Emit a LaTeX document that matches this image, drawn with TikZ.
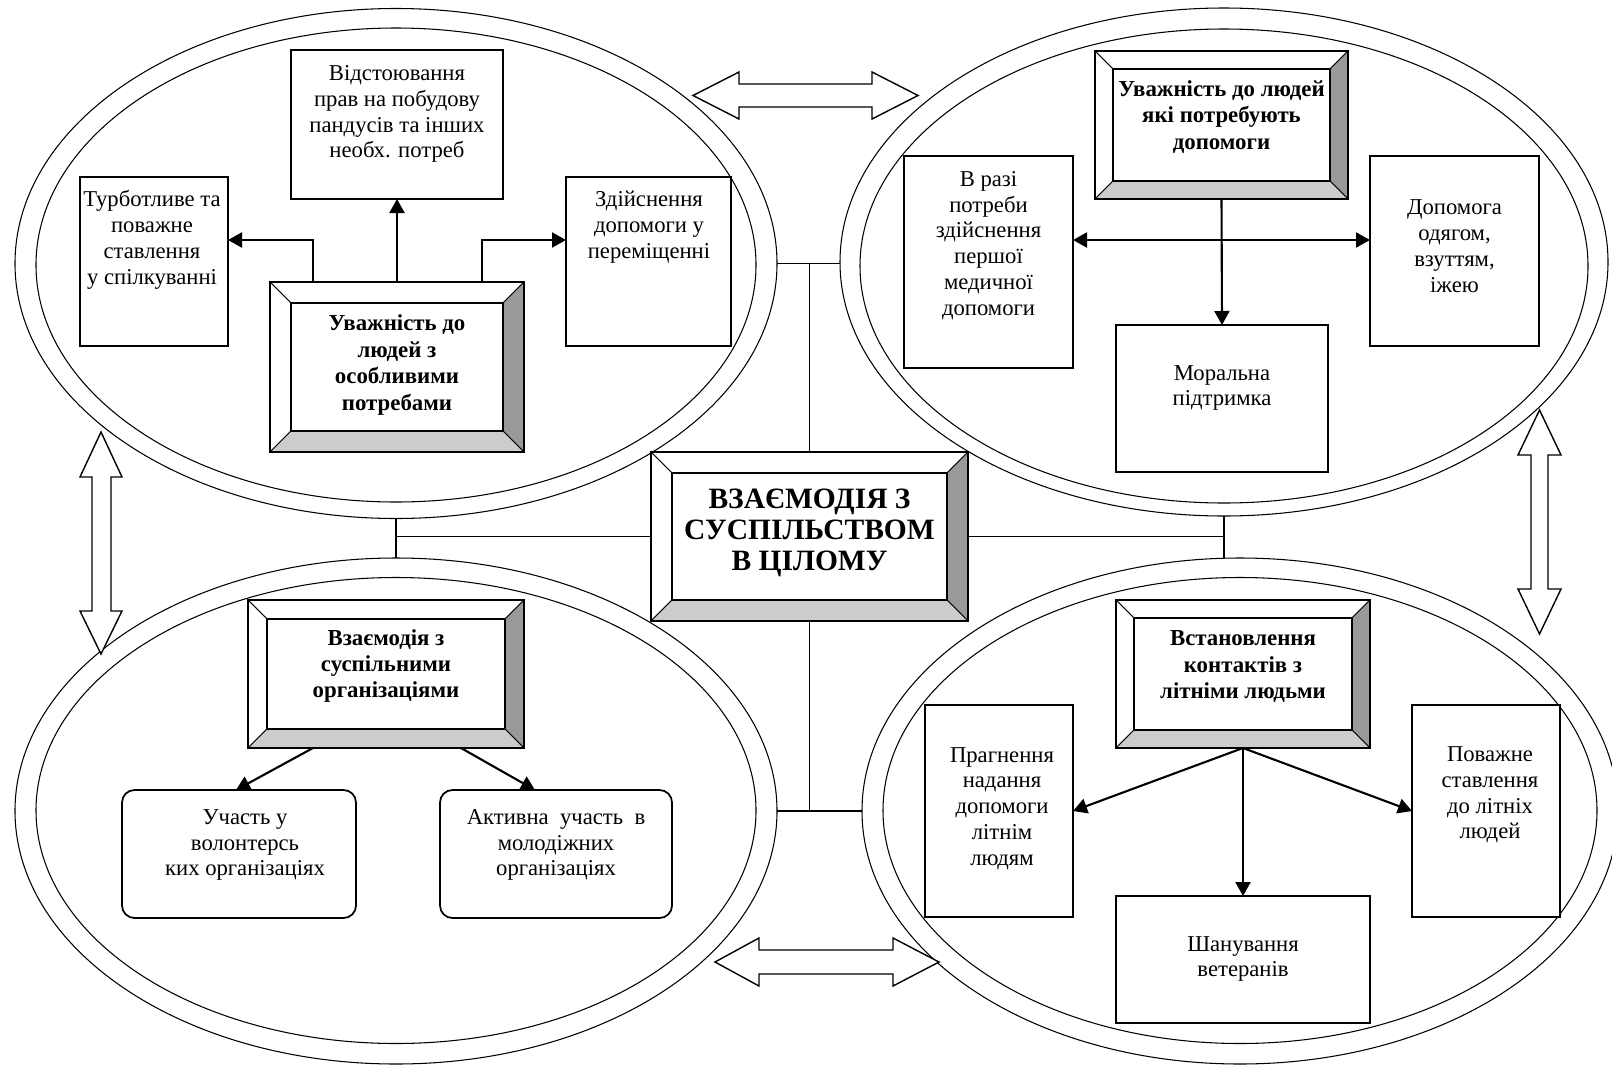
\documentclass[tikz,border=0pt]{standalone}
\usepackage{fontspec}
\setmainfont{Liberation Serif}
\usetikzlibrary{arrows.meta,calc,shapes.geometric}

\definecolor{bevdark}{HTML}{999999}
\definecolor{bevlight}{HTML}{CCCCCC}

\tikzset{
  sz/.style 2 args={minimum width=#1*0.02cm, minimum height=#2*0.02cm},
  ring/.style={ellipse, draw, line width=0.6pt, inner sep=0pt, outer sep=0pt},
  box/.style={rectangle, draw, fill=white, line width=1pt, inner sep=0pt, outer sep=0pt},
  rbox/.style={box, rounded corners=0.25cm},
  txt/.style={align=center, inner sep=0pt, font=\fontsize{12.9}{14.7}\selectfont},
  btxt/.style={align=center, inner sep=0pt, font=\fontsize{13}{15}\selectfont\bfseries},
  ctxt/.style={align=center, inner sep=0pt, font=\fontsize{16.8}{17.6}\selectfont\bfseries},
  arr/.style={line width=1.2pt, -{Triangle[length=0.28cm,width=0.3cm]}},
  darr/.style={line width=1.2pt, {Triangle[length=0.28cm,width=0.3cm]}-{Triangle[length=0.28cm,width=0.3cm]}},
  link/.style={line width=0.8pt},
  hollow/.style={draw, fill=white, line width=0.8pt, line join=miter},
}

% box with bevelled frame: name, centre, width, height, bevel (all in px)
\newcommand{\bevelbox}[5]{%
  \node[box, sz={#3}{#4}] (#1) at #2 {};
  \filldraw[fill=white, line width=0.5pt] (#1.north west) -- (#1.north east) -- ($(#1.north east)+(-#5,#5)$) -- ($(#1.north west)+(#5,#5)$) -- cycle;
  \filldraw[fill=white, line width=0.5pt] (#1.north west) -- ($(#1.north west)+(#5,#5)$) -- ($(#1.south west)+(#5,-#5)$) -- (#1.south west) -- cycle;
  \filldraw[fill=bevdark, line width=0.5pt] (#1.north east) -- ($(#1.north east)+(-#5,#5)$) -- ($(#1.south east)+(-#5,-#5)$) -- (#1.south east) -- cycle;
  \filldraw[fill=bevlight, line width=0.5pt] (#1.south west) -- ($(#1.south west)+(#5,-#5)$) -- ($(#1.south east)+(-#5,-#5)$) -- (#1.south east) -- cycle;
  \draw[line width=1.2pt] ($(#1.north west)+(#5,#5)$) rectangle ($(#1.south east)+(-#5,-#5)$);
  \draw[line width=1.1pt] (#1.north west) rectangle (#1.south east);
}

\begin{document}
\begin{tikzpicture}[x=0.02cm, y=-0.02cm]
    \useasboundingbox (0,0) rectangle (1612,1065);

    %% the four rings
    \node[ring, sz={762}{510}] (tl) at (396,263.5) {};
    \node[ring, sz={720}{474}] (tl-in) at (396,265) {};
    \node[ring, sz={768}{508}] (tr) at (1224,262) {};
    \node[ring, sz={728}{474}] (tr-in) at (1224,266) {};
    \node[ring, sz={762}{506}] (bl) at (396,811) {};
    \node[ring, sz={720}{466}] (bl-in) at (396,810.5) {};
    \node[ring, sz={756}{506}] (br) at (1240,811) {};
    \node[ring, sz={714}{466}] (br-in) at (1240,810.5) {};

    %% centre
    \bevelbox{centre}{(809.5,536.5)}{317}{169}{21}
        \node[ctxt] (centre-t) at (809.5,533) {ВЗАЄМОДІЯ З\\СУСПІЛЬСТВОМ\\В ЦІЛОМУ};

    %% links from the centre
    \draw[link] (tl.east) -- (tl.east -| tr.west);
    \draw[link] (centre.north) -- (centre.north |- tl.east);
    \draw[link] (tl.south) -- (bl.north);
    \draw[link] (centre.west) -- (centre.west -| tl.south);
    \draw[link] (tr.south) -- (tr.south |- br.north);
    \draw[link] (centre.east) -- (centre.east -| tr.south);
    \draw[link] (centre.south) -- (centre.south |- bl.east);
    \draw[link] (bl.east) -- (br.west);

    %% hollow arrows between the rings
    \draw[hollow] (693,95.5) -- (739,72) -- (739,84) -- (872,84) -- (872,72) -- (918,95.5)
        -- (872,119) -- (872,107) -- (739,107) -- (739,119) -- cycle;
    \draw[hollow] (715,962) -- (759,938) -- (759,950) -- (893,950) -- (893,938) -- (939,962)
        -- (893,986) -- (893,974) -- (759,974) -- (759,986) -- cycle;
    \draw[hollow] (101,432) -- (122,477) -- (111,477) -- (111,611) -- (122,611) -- (101,654)
        -- (80,611) -- (92,611) -- (92,477) -- (80,477) -- cycle;
    \draw[hollow] (1539.5,410) -- (1561,455) -- (1548,455) -- (1548,589) -- (1561,589) -- (1539.5,634)
        -- (1518,589) -- (1531,589) -- (1531,455) -- (1518,455) -- cycle;

    %% top left
    \bevelbox{tlc}{(397,367)}{254}{170}{21}
        \node[btxt] (tlc-t) at (397,365) {Уважність до\\людей з\\особливими\\потребами};
    \node[box, sz={212}{149}] (vidst) at (397,124.5) {};
        \node[txt] (vidst-t) at (397,114) {Відстоювання\\прав на побудову\\пандусів та інших\\необх. потреб};
    \node[box, sz={148}{169}] (turb) at (154,261.5) {};
        \node[txt] (turb-t) at (152,240) {Турботливе та\\поважне\\ставлення\\у спілкуванні};
    \node[box, sz={165}{169}] (zdiys) at (648.5,261.5) {};
        \node[txt] (zdiys-t) at (649,227) {Здійснення\\допомоги у\\переміщенні};
    \draw[arr] (tlc.north) -- (vidst.south);
    \draw[arr] ($(tlc.north)+(-84,0)$) |- ($(turb.east)+(0,-21.5)$);
    \draw[arr] ($(tlc.north)+(85,0)$) |- ($(zdiys.west)+(0,-21.5)$);

    %% top right
    \bevelbox{trc}{(1221.5,125)}{253}{148}{18}
        \node[btxt] (trc-t) at (1221.5,117) {Уважність до людей\\які потребують\\допомоги};
    \node[box, sz={169}{212}] (vrazi) at (988.5,262) {};
        \node[txt] (vrazi-t) at (988.5,245.5) {В разі\\потреби\\здійснення\\першої\\медичної\\допомоги};
    \node[box, sz={169}{190}] (dopom) at (1454.5,251) {};
        \node[txt] (dopom-t) at (1454.5,246) {Допомога\\одягом,\\взуттям,\\іжею};
    \node[box, sz={212}{147}] (moral) at (1222,398.5) {};
        \node[txt] (moral-t) at (1222,388) {Моральна\\підтримка};
    \draw[arr] (trc.south) -- (moral.north);
    \draw[darr] ($(vrazi.east)+(0,-22)$) -- ($(dopom.west)+(0,-11)$);

    %% bottom left
    \bevelbox{blc}{(386,674)}{276}{148}{19}
        \node[btxt] (blc-t) at (386,666) {Взаємодія з\\суспільними\\організаціями};
    \node[rbox, sz={234}{128}] (uchast) at (239,854) {};
        \node[txt] (uchast-t) at (245,845) {Участь у\\волонтерсь\\ких організаціях};
    \node[rbox, sz={232}{128}] (aktyv) at (556,854) {};
        \node[txt] (aktyv-t) at (556,845) {Активна~ участь~ в\\молодіжних\\організаціях};
    \draw[arr] ($(blc.south)+(-73,0)$) -- ($(uchast.north)+(-3,0)$);
    \draw[arr] ($(blc.south)+(75,0)$) -- ($(aktyv.north)+(-21,0)$);

    %% bottom right
    \bevelbox{brc}{(1243,674)}{254}{148}{18}
        \node[btxt] (brc-t) at (1243,666.5) {Встановлення\\контактів з\\літніми людьми};
    \node[box, sz={148}{212}] (prahn) at (999,811) {};
        \node[txt] (prahn-t) at (1002,808.5) {Прагнення\\надання\\допомоги\\літнім\\людям};
    \node[box, sz={148}{212}] (povazh) at (1486,811) {};
        \node[txt] (povazh-t) at (1490,795) {Поважне\\ставлення\\до літніх\\людей};
    \node[box, sz={254}{127}] (shan) at (1243,959.5) {};
        \node[txt] (shan-t) at (1243,959) {Шанування\\ветеранів};
    \draw[arr] (brc.south) -- (prahn.east);
    \draw[arr] (brc.south) -- (povazh.west);
    \draw[arr] (brc.south) -- (shan.north);

\end{tikzpicture}
\end{document}
